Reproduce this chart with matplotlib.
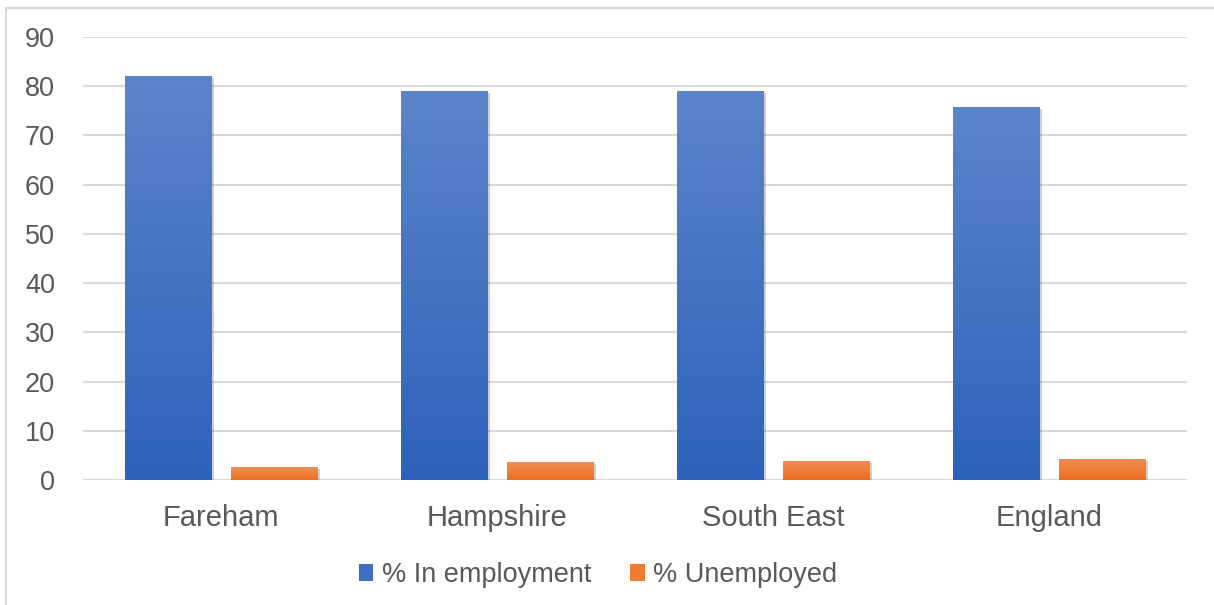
import matplotlib
matplotlib.use("Agg")
import matplotlib.pyplot as plt
import matplotlib.patheffects as pe
from matplotlib.colors import LinearSegmentedColormap
from matplotlib.patches import Rectangle, Patch
import numpy as np

plt.rcParams["font.family"] = ["Liberation Sans", "DejaVu Sans"]

areas = ["Fareham", "Hampshire", "South East", "England"]
employed = [82.0, 79.0, 79.0, 75.8]
unemployed = [2.6, 3.6, 3.9, 4.3]
series_names = ["% In employment", "% Unemployed"]
y_ticks = [0, 10, 20, 30, 40, 50, 60, 70, 80, 90]

blue_grad = LinearSegmentedColormap.from_list("blue", ["#2D62BA", "#5C84CA"])
orange_grad = LinearSegmentedColormap.from_list("orange", ["#EC6E1F", "#F28E52"])
text_col = "#595959"
grid_col = "#D9D9D9"

fig = plt.figure(figsize=(12.14, 6.05), dpi=100)

# chart area border (runs off the right/bottom edge in the source)
fig.patches.append(Rectangle((6 / 1214, -0.05), 1.1, 1 - 7.5 / 605 + 0.05,
                             transform=fig.transFigure, fill=False,
                             edgecolor=grid_col, linewidth=1.5))

ax = fig.add_axes([83 / 1214, 1 - 480 / 605, 1104 / 1214, 443 / 605])

x = np.arange(len(areas))
width = 0.315
offset = (width + 0.069) / 2


def gradient_bars(bars, cmap):
    # fill each bar with a vertical gradient, clipped to the bar shape
    grad = np.linspace(0, 1, 256).reshape(-1, 1)
    for b in bars:
        x0, y0 = b.get_x(), b.get_y()
        im = ax.imshow(grad, cmap=cmap, origin="lower", aspect="auto",
                       extent=[x0, x0 + b.get_width(), y0, y0 + b.get_height()],
                       zorder=3)
        im.set_clip_path(b)


shadow = [pe.SimplePatchShadow(offset=(1.5, -1.5), shadow_rgbFace="#000000",
                               alpha=0.18), pe.Normal()]
b1 = ax.bar(x - offset, employed, width, color="#2D62BA", zorder=2,
            label=series_names[0], path_effects=shadow)
b2 = ax.bar(x + offset, unemployed, width, color="#EC6E1F", zorder=2,
            label=series_names[1], path_effects=shadow)
gradient_bars(b1, blue_grad)
gradient_bars(b2, orange_grad)

ax.set_xlim(-0.5, len(areas) - 0.5)
ax.set_ylim(0, 90)
ax.set_yticks(y_ticks)
ax.set_xticks(x)
ax.set_xticklabels(areas)
ax.tick_params(axis="both", length=0, colors=text_col)
ax.tick_params(axis="y", pad=20, labelsize=19.5)
ax.tick_params(axis="x", pad=17, labelsize=21)
ax.yaxis.grid(True, color=grid_col, linewidth=1.5)
ax.set_axisbelow(True)
for s in ax.spines.values():
    s.set_visible(False)

handles = [Patch(facecolor="#3F6EC0"), Patch(facecolor="#EF7B35")]
fig.legend(handles, series_names, loc="center", ncol=2,
           bbox_to_anchor=(598 / 1214, 1 - 575 / 605), frameon=False,
           fontsize=19.5, labelcolor=text_col, handlelength=0.55,
           handleheight=0.55, handletextpad=0.3, columnspacing=1.45)

fig.savefig("out.png", dpi=100)
